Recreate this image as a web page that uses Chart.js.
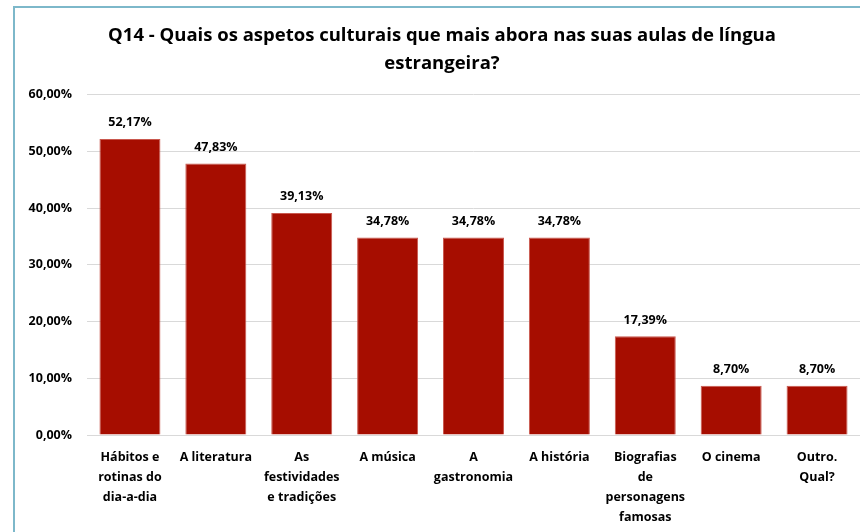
<!DOCTYPE html>
<html>
<head>
<meta charset="utf-8">
<script src="https://cdn.jsdelivr.net/npm/chart.js@4.4.1/dist/chart.umd.min.js"></script>
<style>
    html, body { margin: 0; padding: 0; background: #fff; overflow: hidden; }
    body { width: 860px; height: 532px; position: relative; }
    #frame {
        position: absolute; left: 13px; top: 6px; width: 880px; height: 540px;
        border-top: 2px solid #7DB8CA; border-left: 2px solid #7DB8CA;
    }
    #wrap { position: absolute; left: 14px; top: 7px; width: 862px; height: 525px; }
</style>
</head>
<body>
<div id="frame"></div>
<div id="wrap"><canvas id="chart"></canvas></div>
<script>
const categories = [
    ['Hábitos e', 'rotinas do', 'dia-a-dia'],
    'A literatura',
    ['As', 'festividades', 'e tradições'],
    'A música',
    ['A', 'gastronomia'],
    'A história',
    ['Biografias', 'de', 'personagens', 'famosas'],
    'O cinema',
    ['Outro.', 'Qual?']
];
const percentages = [52.17, 47.83, 39.13, 34.78, 34.78, 34.78, 17.39, 8.70, 8.70];
const titleLines = ['Q14 - Quais os aspetos culturais que mais abora nas suas aulas de língua', 'estrangeira?'];

const fontFamily = '"Open Sans", Lato, sans-serif';

function formatPct(v) {
    return v.toFixed(2).replace('.', ',') + '%';
}

// draws the value above each bar
const valueLabels = {
    id: 'valueLabels',
    afterDatasetsDraw(chart) {
        const ctx = chart.ctx;
        const meta = chart.getDatasetMeta(0);
        ctx.save();
        ctx.font = 'bold 12.5px ' + fontFamily;
        ctx.fillStyle = '#000';
        ctx.textAlign = 'center';
        ctx.textBaseline = 'middle';
        meta.data.forEach(function(bar, i) {
            ctx.fillText(formatPct(percentages[i]), bar.x, bar.y - 16);
        });
        ctx.restore();
    }
};

const ctx = document.getElementById('chart').getContext('2d');
new Chart(ctx, {
    type: 'bar',
    data: {
        labels: categories,
        datasets: [{
            data: percentages,
            backgroundColor: '#A60D00',
            borderColor: '#C9584E',
            borderWidth: 1,
            categoryPercentage: 1,
            barPercentage: 0.71
        }]
    },
    options: {
        responsive: true,
        maintainAspectRatio: false,
        animation: false,
        layout: { padding: { left: 10, right: 16, top: 0, bottom: 0 } },
        plugins: {
            legend: { display: false },
            tooltip: { enabled: false },
            title: {
                display: true,
                text: titleLines,
                color: '#000',
                font: { family: fontFamily, size: 18.5, weight: 'bold', lineHeight: 1.5 },
                padding: { top: 15, bottom: 17 }
            }
        },
        scales: {
            x: {
                grid: { display: false },
                border: { color: '#D9D9D9', width: 1 },
                ticks: {
                    color: '#000',
                    font: { family: fontFamily, size: 12.5, weight: 'bold', lineHeight: 1.6 },
                    padding: 4,
                    maxRotation: 0,
                    autoSkip: false
                },
                afterFit: function(scale) { scale.height = 97; }
            },
            y: {
                min: 0,
                max: 60,
                grid: { color: '#D9D9D9', drawTicks: false },
                border: { display: false },
                ticks: {
                    stepSize: 10,
                    color: '#000',
                    font: { family: fontFamily, size: 12.5, weight: 'bold' },
                    padding: 15,
                    callback: function(v) { return formatPct(v); }
                },
                afterFit: function(scale) { scale.width = 63; }
            }
        }
    },
    plugins: [valueLabels]
});
</script>
</body>
</html>
